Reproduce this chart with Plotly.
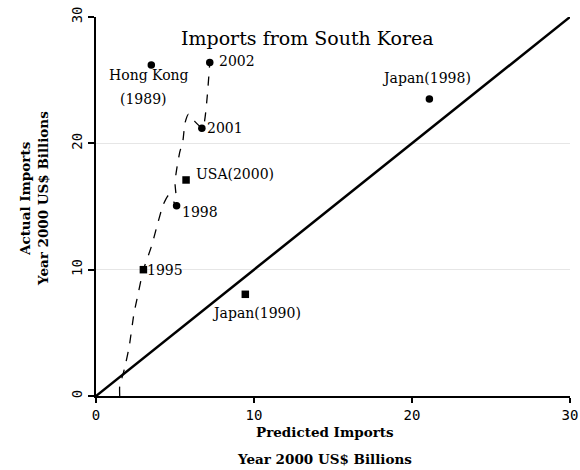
import plotly.graph_objects as go

# South Korea's export trajectory to its partner (predicted vs actual, US$ bn)
traj_pred = [1.5, 1.5, 1.73, 1.9, 2.1, 2.4, 2.65, 3.0, 3.5, 3.85, 4.24, 4.6, 5.1, 5.0, 5.1, 5.3, 5.5, 5.63, 5.84, 6.2, 6.75, 7.2]
traj_actual = [0.0, 0.8, 1.8, 2.7, 3.9, 6.5, 8.0, 10.0, 11.8, 13.4, 15.1, 15.9, 15.05, 16.9, 17.9, 19.3, 20.2, 21.6, 22.3, 21.8, 21.2, 26.4]

# Labelled observations
pt_names = ["2002", "Hong Kong (1989)", "2001", "USA(2000)", "1998", "1995", "Japan(1990)", "Japan(1998)"]
pt_pred = [7.2, 3.5, 6.7, 5.7, 5.1, 3.0, 9.45, 21.1]
pt_actual = [26.4, 26.2, 21.2, 17.1, 15.05, 10.0, 8.05, 23.5]

# 45-degree reference line
diag = [0, 30]

x_ticks = [0, 10, 20, 30]
y_ticks = [0, 10, 20, 30]

symbols = {"USA(2000)": "square", "1995": "square", "Japan(1990)": "square"}

fig = go.Figure()

fig.add_trace(go.Scatter(
    x=diag, y=diag, mode="lines",
    line=dict(color="black", width=2.5), hoverinfo="skip", showlegend=False,
))

fig.add_trace(go.Scatter(
    x=traj_pred, y=traj_actual, mode="lines",
    line=dict(color="black", width=1.3, dash="dash", shape="spline", smoothing=0.5),
    hoverinfo="skip", showlegend=False,
))

fig.add_trace(go.Scatter(
    x=pt_pred, y=pt_actual, mode="markers",
    marker=dict(color="black", size=7.5,
                symbol=[symbols.get(n, "circle") for n in pt_names]),
    text=pt_names, hoverinfo="text", showlegend=False,
))

serif = "DejaVu Serif"
label_font = dict(family=serif, size=14, color="black")

# text placement per point: (text, xanchor, xshift, yshift)
placements = {
    "2002": [("2002", "left", 7, 1)],
    "Hong Kong (1989)": [("Hong Kong", "center", -2, -10), ("(1989)", "center", -8, -34)],
    "2001": [("2001", "left", 3, 0)],
    "USA(2000)": [("USA(2000)", "left", 8, 6)],
    "1998": [("1998", "left", 3, -6)],
    "1995": [("1995", "left", 2, 0)],
    "Japan(1990)": [("Japan(1990)", "center", 11, -19)],
    "Japan(1998)": [("Japan(1998)", "center", -3, 21)],
}

annotations = []
for name, px, py in zip(pt_names, pt_pred, pt_actual):
    for text, anchor, dx, dy in placements[name]:
        annotations.append(dict(
            x=px, y=py, xref="x", yref="y", text=text, showarrow=False,
            xanchor=anchor, yanchor="middle", xshift=dx, yshift=dy, font=label_font,
        ))

axis_title_font = dict(family=serif, size=13.5, color="black")
annotations += [
    dict(x=0.447, y=0.945, text="Imports from South Korea",
         font=dict(family=serif, size=19, color="black")),
    dict(x=0.483, y=-0.095, text="<b>Predicted Imports</b>", font=axis_title_font),
    dict(x=0.483, y=-0.166, text="<b>Year 2000 US$ Billions</b>", font=axis_title_font),
    dict(x=-0.150, y=0.522, text="<b>Actual Imports</b>", textangle=-90, font=axis_title_font),
    dict(x=-0.112, y=0.522, text="<b>Year 2000 US$ Billions</b>", textangle=-90, font=axis_title_font),
]
for a in annotations[-5:]:
    a.update(xref="paper", yref="paper", showarrow=False, xanchor="center", yanchor="middle")

tick_font = dict(family="DejaVu Sans Mono", size=14, color="black")

fig.update_layout(
    width=580, height=470,
    margin=dict(l=96, r=10, t=17, b=74),
    paper_bgcolor="white", plot_bgcolor="white",
    annotations=annotations,
    xaxis=dict(range=[0, 30], tickvals=x_ticks, ticks="outside", ticklen=5, tickwidth=1.5,
               tickcolor="black", showline=True, linecolor="black", linewidth=2,
               showgrid=False, zeroline=False, tickfont=tick_font, automargin=False),
    yaxis=dict(range=[0, 30], tickvals=y_ticks, ticks="outside", ticklen=6, tickwidth=1.5,
               tickcolor="black", showline=True, linecolor="black", linewidth=2,
               showgrid=True, gridcolor="#e6e6e6", gridwidth=1, zeroline=False,
               tickangle=-90, tickfont=tick_font, automargin=False),
)

fig.write_html("out.html")
